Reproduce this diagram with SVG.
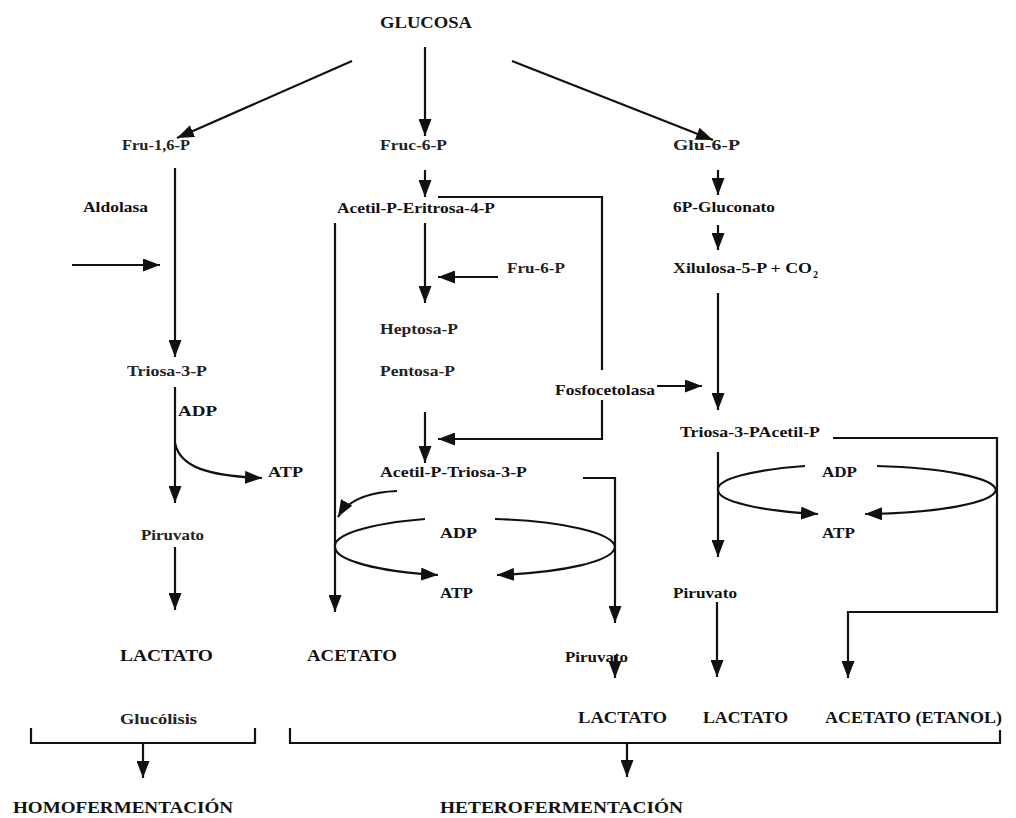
<svg xmlns="http://www.w3.org/2000/svg" width="1016" height="818" viewBox="0 0 1016 818">
<style>
text{font-family:"Liberation Serif","Times New Roman",serif;fill:#111;text-anchor:start}
.b{font-weight:bold;font-size:17px}
.s{font-size:15px;font-weight:bold}
.n{font-size:15px;font-weight:bold;fill:#222}
.c{fill:none;stroke:#111;stroke-width:2.2}
</style>
<defs>
<marker id="ah" markerUnits="userSpaceOnUse" markerWidth="18" markerHeight="13" refX="17" refY="6.5" orient="auto">
<path d="M0,0 L17,6.5 L0,13 z" fill="#111"/>
</marker>
</defs>
<rect width="1016" height="818" fill="#fff"/>
<g id="connectors">
<line class="c" x1="352" y1="61" x2="177" y2="138" marker-end="url(#ah)"/>
<line class="c" x1="425" y1="47" x2="425" y2="136" marker-end="url(#ah)"/>
<line class="c" x1="512" y1="61" x2="713" y2="140" marker-end="url(#ah)"/>
<line class="c" x1="175" y1="168" x2="175" y2="357" marker-end="url(#ah)"/>
<line class="c" x1="72" y1="265" x2="160" y2="265" marker-end="url(#ah)"/>
<line class="c" x1="175" y1="387" x2="175" y2="503" marker-end="url(#ah)"/>
<path class="c" d="M175,443 C180,468 210,476 262,478" marker-end="url(#ah)"/>
<line class="c" x1="175" y1="547" x2="175" y2="610" marker-end="url(#ah)"/>
<line class="c" x1="425" y1="170" x2="425" y2="197" marker-end="url(#ah)"/>
<path class="c" d="M438,197 H602 V370"/>
<path class="c" d="M602,400 V439 H438" marker-end="url(#ah)"/>
<line class="c" x1="335" y1="223" x2="335" y2="612" marker-end="url(#ah)"/>
<line class="c" x1="425" y1="223" x2="425" y2="303" marker-end="url(#ah)"/>
<line class="c" x1="498" y1="277" x2="438" y2="277" marker-end="url(#ah)"/>
<line class="c" x1="425" y1="412" x2="425" y2="463" marker-end="url(#ah)"/>
<path class="c" d="M397,491 C370,492 348,500 338,517" marker-end="url(#ah)"/>
<path class="c" d="M425,519 A140,29 0 0 0 335,547 A140,29 0 0 0 438,575" marker-end="url(#ah)"/>
<path class="c" d="M495,519 A140,29 0 0 1 615,547 A140,29 0 0 1 497,575" marker-end="url(#ah)"/>
<path class="c" d="M583,478 H615 V623" marker-end="url(#ah)"/>
<line class="c" x1="615" y1="655" x2="615" y2="678" marker-end="url(#ah)"/>
<line class="c" x1="718" y1="170" x2="718" y2="195" marker-end="url(#ah)"/>
<line class="c" x1="718" y1="225" x2="718" y2="250" marker-end="url(#ah)"/>
<line class="c" x1="718" y1="293" x2="718" y2="410" marker-end="url(#ah)"/>
<line class="c" x1="657" y1="386" x2="702" y2="386" marker-end="url(#ah)"/>
<path class="c" d="M833,438 H997 V612 H848 V678" marker-end="url(#ah)"/>
<line class="c" x1="718" y1="452" x2="718" y2="557" marker-end="url(#ah)"/>
<path class="c" d="M805,466 A139,25 0 0 0 718,490 A139,25 0 0 0 818,514" marker-end="url(#ah)"/>
<path class="c" d="M877,466 A139,25 0 0 1 996,490 A139,25 0 0 1 865,514" marker-end="url(#ah)"/>
<line class="c" x1="717" y1="602" x2="717" y2="677" marker-end="url(#ah)"/>
<path class="c" d="M31,728 V743 H255 V728"/>
<path class="c" d="M290,728 V743 H1000 V730"/>
<line class="c" x1="143" y1="743" x2="143" y2="778" marker-end="url(#ah)"/>
<line class="c" x1="627" y1="743" x2="627" y2="777" marker-end="url(#ah)"/>
</g>
<g id="n-glucosa"><text class="b" x="380" y="28" textLength="92" lengthAdjust="spacingAndGlyphs">GLUCOSA</text></g>
<g id="n-fru16p"><text class="n" x="122" y="150" textLength="68" lengthAdjust="spacingAndGlyphs">Fru-1,6-P</text></g>
<g id="n-fruc6p"><text class="n" x="380" y="150" textLength="67" lengthAdjust="spacingAndGlyphs">Fruc-6-P</text></g>
<g id="n-glu6p"><text class="n" x="673" y="150" textLength="67" lengthAdjust="spacingAndGlyphs">Glu-6-P</text></g>
<g id="n-aldolasa"><text class="s" x="83" y="212" textLength="65" lengthAdjust="spacingAndGlyphs">Aldolasa</text></g>
<g id="n-acetileritrosa"><text class="s" x="337" y="213" textLength="158" lengthAdjust="spacingAndGlyphs">Acetil-P-Eritrosa-4-P</text></g>
<g id="n-6pgluconato"><text class="s" x="673" y="212" textLength="102" lengthAdjust="spacingAndGlyphs">6P-Gluconato</text></g>
<g id="n-fru6p"><text class="n" x="507" y="273" textLength="58" lengthAdjust="spacingAndGlyphs">Fru-6-P</text></g>
<g id="n-xilulosa"><text class="s" x="673" y="273" textLength="139" lengthAdjust="spacingAndGlyphs">Xilulosa-5-P + CO</text><text class="s" x="813" y="278" style="font-size:10px">2</text></g>
<g id="n-heptosa"><text class="n" x="380" y="334" textLength="78" lengthAdjust="spacingAndGlyphs">Heptosa-P</text></g>
<g id="n-pentosa"><text class="n" x="380" y="376" textLength="75" lengthAdjust="spacingAndGlyphs">Pentosa-P</text></g>
<g id="n-triosa3p"><text class="n" x="127" y="376" textLength="80" lengthAdjust="spacingAndGlyphs">Triosa-3-P</text></g>
<g id="n-fosfocetolasa"><text class="s" x="555" y="395" textLength="100" lengthAdjust="spacingAndGlyphs">Fosfocetolasa</text></g>
<g id="n-adp1"><text class="s" x="178" y="416" textLength="39" lengthAdjust="spacingAndGlyphs">ADP</text></g>
<g id="n-atp1"><text class="s" x="268" y="477" textLength="35" lengthAdjust="spacingAndGlyphs">ATP</text></g>
<g id="n-triosaacetil"><text class="s" x="680" y="437" textLength="140" lengthAdjust="spacingAndGlyphs">Triosa-3-PAcetil-P</text></g>
<g id="n-acetiltriosa"><text class="s" x="380" y="477" textLength="147" lengthAdjust="spacingAndGlyphs">Acetil-P-Triosa-3-P</text></g>
<g id="n-adp3"><text class="s" x="822" y="477" textLength="35" lengthAdjust="spacingAndGlyphs">ADP</text></g>
<g id="n-atp3"><text class="s" x="822" y="538" textLength="33" lengthAdjust="spacingAndGlyphs">ATP</text></g>
<g id="n-piruvato1"><text class="n" x="141" y="540" textLength="63" lengthAdjust="spacingAndGlyphs">Piruvato</text></g>
<g id="n-adp2"><text class="s" x="440" y="538" textLength="37" lengthAdjust="spacingAndGlyphs">ADP</text></g>
<g id="n-atp2"><text class="s" x="440" y="598" textLength="33" lengthAdjust="spacingAndGlyphs">ATP</text></g>
<g id="n-piruvato3"><text class="s" x="673" y="598" textLength="64" lengthAdjust="spacingAndGlyphs">Piruvato</text></g>
<g id="n-lactato1"><text class="b" x="120" y="661" textLength="93" lengthAdjust="spacingAndGlyphs">LACTATO</text></g>
<g id="n-acetato1"><text class="b" x="307" y="661" textLength="90" lengthAdjust="spacingAndGlyphs">ACETATO</text></g>
<g id="n-piruvato2"><text class="s" x="565" y="662" textLength="63" lengthAdjust="spacingAndGlyphs">Piruvato</text></g>
<g id="n-glucolisis"><text class="n" x="120" y="724" textLength="77" lengthAdjust="spacingAndGlyphs">Glucólisis</text></g>
<g id="n-lactato2"><text class="b" x="578" y="723" textLength="89" lengthAdjust="spacingAndGlyphs">LACTATO</text></g>
<g id="n-lactato3"><text class="b" x="703" y="723" textLength="85" lengthAdjust="spacingAndGlyphs">LACTATO</text></g>
<g id="n-acetatoetanol"><text class="b" x="825" y="723" textLength="177" lengthAdjust="spacingAndGlyphs">ACETATO (ETANOL)</text></g>
<g id="n-homo"><text class="b" x="13" y="813" textLength="220" lengthAdjust="spacingAndGlyphs">HOMOFERMENTACIÓN</text></g>
<g id="n-hetero"><text class="b" x="440" y="813" textLength="243" lengthAdjust="spacingAndGlyphs">HETEROFERMENTACIÓN</text></g>
</svg>
